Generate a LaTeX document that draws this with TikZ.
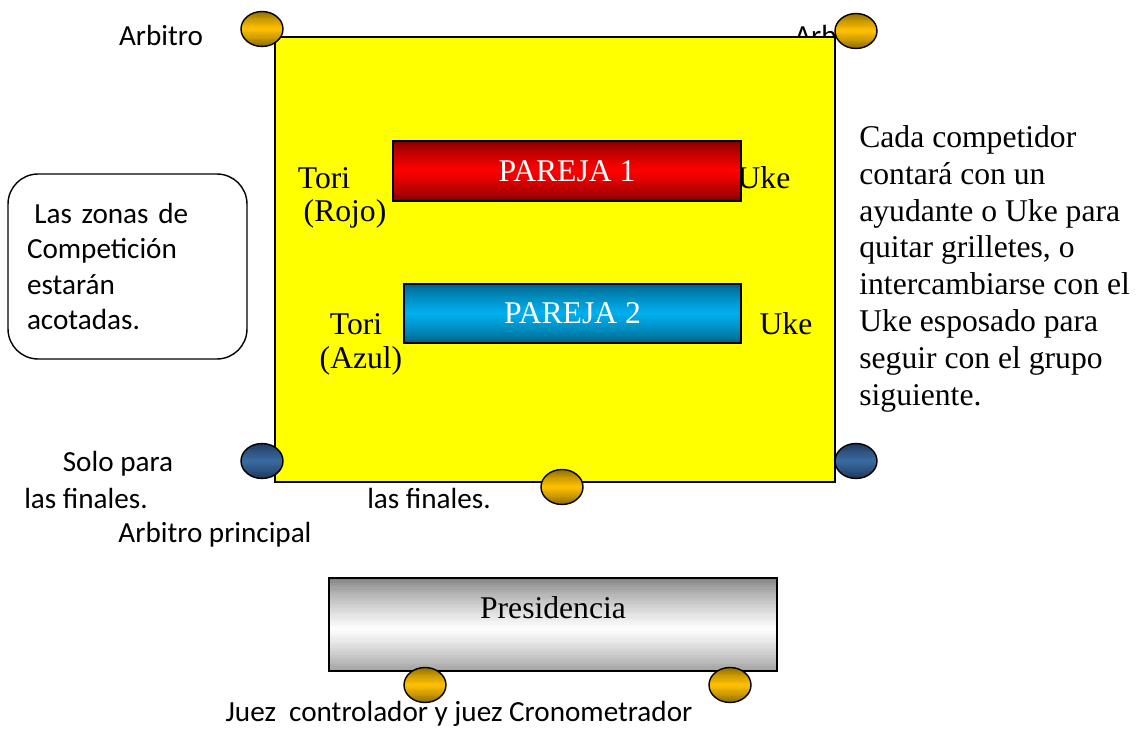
\documentclass[tikz,border=0pt]{standalone}
\usepackage{fontspec}
\setmainfont{Liberation Serif}
\newfontfamily\calib{Carlito}
\usepackage{tikz}
\usetikzlibrary{shapes.geometric, calc}
\definecolor{amarillo}{RGB}{255,255,0}
\definecolor{rojo}{RGB}{255,0,0}
\definecolor{oro}{HTML}{FFC000}
\definecolor{orooscuro}{HTML}{7F6000}
\definecolor{azulj}{HTML}{3A6AA0}
\definecolor{azuloscuro}{HTML}{1B3050}
\definecolor{rojoosc}{HTML}{7A0000}
\definecolor{cian}{HTML}{00B0F0}
\definecolor{cianosc}{HTML}{005A7A}
\definecolor{gris}{HTML}{787878}
\definecolor{blanco}{RGB}{255,255,255}
\tikzset{
    x=0.02cm, y=-0.02cm, % one unit is one pixel of the sketch
    % vertical gradient painted in strips: edge colour, middle colour, where the middle is
    degradado/.style n args={3}{path picture={
        \path (path picture bounding box.north west) coordinate (nw)
              (path picture bounding box.south east) coordinate (se);
        \foreach \i in {0,...,39}{
            \pgfmathsetmacro\p{100*(1-abs((\i+0.5)/40-#3)/max(#3,1-#3))^0.7}
            \pgfmathsetmacro\a{\i/40}
            \pgfmathsetmacro\b{(\i+1.3)/40}
            \fill[#2!\p!#1] ($(nw)!\a!(nw|-se)$) rectangle ($(se|-nw)!\b!(se)$);
        }}},
    juez/.style={ellipse, draw, thick, minimum width=0.84cm, minimum height=0.7cm,
        degradado={orooscuro}{oro}{0.5}}, % gold referee marks
    juezfinal/.style={ellipse, draw, thick, minimum width=0.84cm, minimum height=0.7cm,
        degradado={azuloscuro}{azulj}{0.5}}, % only for the finals
    pareja/.style={rectangle, draw, thick, minimum height=1.2cm, text=white,
        font=\fontsize{18}{21}\selectfont}, % the two pairs
    rotulo/.style={font=\calib\fontsize{16.6}{20}\selectfont, inner sep=0pt}, % sans labels
    letra/.style={font=\fontsize{18}{21}\selectfont, inner sep=0pt}, % serif labels
}
\begin{document}
\begin{tikzpicture}
        \useasboundingbox (0,0) rectangle (1139,729);
        % labels partly hidden by the area
        \node[rotulo] (arb1) at (161,35) {Arbitro};
        \node[rotulo, anchor=west] (arb2) at (794,35) {Arb};
        % competition area
        \node[rectangle, draw, thick, fill=amarillo, minimum width=11.2cm, minimum height=8.9cm] (zona) at (555,259.5) {};
        \node[letra] (tori1) at (324,178) {Tori};
        \node[letra] (rojo) at (345,214) {(Rojo)};
        \node[letra] (uke1) at (764,178) {Uke};
        \node[pareja, minimum width=6.96cm, degradado={rojoosc}{rojo}{0.5}] (p1) at (567,171) {PAREJA 1};
        \node[letra] (tori2) at (356,324) {Tori};
        \node[letra] (azul) at (361,361) {(Azul)};
        \node[letra] (uke2) at (786,324) {Uke};
        \node[pareja, minimum width=6.74cm, minimum height=1.18cm, degradado={cianosc}{cian}{0.5}] (p2) at (572.5,313.5) {PAREJA 2};
        % referees
        \node[juez] (j1) at (262,29) {};
        \node[juez] (j2) at (856,31) {};
        \node[juezfinal] (f1) at (262,461) {};
        \node[juezfinal] (f2) at (856,461) {};
        \node[juez] (jp) at (562,487) {};
        \node[rotulo] (solo) at (118,464) {Solo para};
        \node[rotulo] (fin1) at (86,498) {las finales.};
        \node[rotulo] (fin2) at (429,498) {las finales.};
        \node[rotulo] (principal) at (215,535) {Arbitro principal};
        % notes
        \node[rectangle, draw, thick, rounded corners=0.6cm, align=left, text width=4.02cm,
              inner xsep=0.38cm, minimum height=3.7cm, font=\calib\fontsize{16.6}{20}\selectfont] (nota) at (127.5,266.5)
              {\hspace*{0.25em}Las zonas de\\Competición\\estarán\\acotadas.};
        \node[letra, anchor=north west, align=left] (uke) at (859,125)
              {Cada competidor\\contará con un\\ayudante o Uke para\\quitar grilletes, o\\intercambiarse con el\\Uke esposado para\\seguir con el grupo\\siguiente.};
        % table
        \node[rectangle, draw, thick, minimum width=8.96cm, minimum height=1.86cm,
              degradado={gris}{blanco}{0.55}] (mesa) at (553,624.5) {};
        \node[letra] (pres) at (553,608) {Presidencia};
        \node[juez] (c1) at (425,685) {};
        \node[juez] (c2) at (730,685) {};
        \node[rotulo] (crono) at (459,714) {Juez\ \ controlador y juez Cronometrador};
    \end{tikzpicture}
\end{document}
